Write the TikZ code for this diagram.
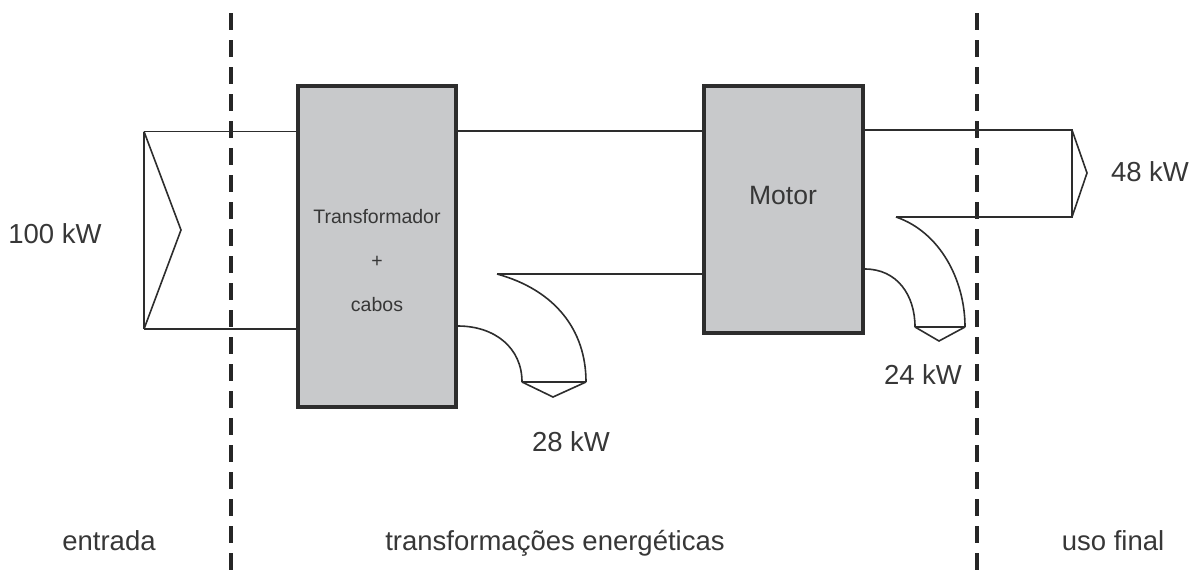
\documentclass[tikz,border=0pt]{standalone}
\usepackage{fontspec}
\setmainfont{Liberation Sans}
\definecolor{boxgray}{RGB}{200,201,203}
\definecolor{ink}{RGB}{45,45,45}
\definecolor{txt}{RGB}{55,55,55}
\tikzset{
  blockbox/.style={draw=ink, line width=3.5pt, fill=boxgray, inner sep=0pt},
  flow/.style={draw=ink, line width=1.6pt, line join=miter},
  divider/.style={draw=black!85, line width=4.5pt, dash pattern=on 17pt off 10pt},
  biglabel/.style={text=txt, font=\fontsize{27.5}{31}\selectfont, inner sep=0pt},
  smalllabel/.style={text=txt, font=\fontsize{19.5}{22}\selectfont, inner sep=0pt}
}
\begin{document}
\begin{tikzpicture}[x=1pt,y=-1pt]
\useasboundingbox (0,0) rectangle (1201,570);
% dividers
\coordinate (d1t) at (231,13); \coordinate (d1b) at (231,570);
\coordinate (d2t) at (977,13); \coordinate (d2b) at (977,570);
\draw[divider] (d1t) -- (d1b);
\draw[divider] (d2t) -- (d2b);
% boxes
\node[blockbox, minimum width=158pt, minimum height=321pt] (trafo) at (377,246.5) {};
\node[blockbox, minimum width=159pt, minimum height=247pt] (motor) at (783.5,209.5) {};
\node[smalllabel] (t1) at (377,217) {Transformador};
\node[smalllabel] (t2) at (377,262) {+};
\node[smalllabel] (t3) at (377,305) {cabos};
\node[biglabel, font=\fontsize{26.5}{30}\selectfont] (m1) at (783,196) {Motor};
% input arrow
\coordinate (inT) at (144,131.5);
\coordinate (inB) at (144,329);
\coordinate (inTip) at (181,230);
\draw[flow] (inT) -- (inB);
\draw[flow] (inT) -- (inTip) -- (inB);
\draw[flow] (inT) -- (trafo.west |- inT);
\draw[flow] (inB) -- (trafo.west |- inB);
% between trafo and motor
\coordinate (mid1) at (456,131);
\draw[flow] (trafo.east |- mid1) -- (motor.west |- mid1);
\coordinate (midL) at (497,274);
\draw[flow] (midL) -- (motor.west |- midL);
% loss 1 (28 kW)
\coordinate (l1in) at (456,326);
\coordinate (l1a) at (522,382);
\coordinate (l1b) at (586,382);
\coordinate (l1tip) at (553,397);
\draw[flow] (trafo.east |- l1in) .. controls (495,326) and (522,348) .. (l1a);
\draw[flow] (midL) .. controls (555,290) and (586,330) .. (l1b);
\draw[flow] (l1a) -- (l1b);
\draw[flow] (l1a) -- (l1tip) -- (l1b);
% output (48 kW)
\coordinate (oT) at (1072,130);
\coordinate (oB) at (1072,217);
\coordinate (oTip) at (1087,173);
\coordinate (oL) at (896,217);
\draw[flow] (motor.east |- oT) -- (oT) -- (oB) -- (oL);
\draw[flow] (oT) -- (oTip) -- (oB);
% loss 2 (24 kW)
\coordinate (l2in) at (863,269);
\coordinate (l2a) at (915,327);
\coordinate (l2b) at (965,327);
\coordinate (l2tip) at (939,341);
\draw[flow] (motor.east |- l2in) .. controls (897,269) and (915,295) .. (l2a);
\draw[flow] (oL) .. controls (940,232) and (965,280) .. (l2b);
\draw[flow] (l2a) -- (l2b);
\draw[flow] (l2a) -- (l2tip) -- (l2b);
% labels
\node[biglabel] (p100) at (55,234) {100 kW};
\node[biglabel] (p48) at (1150,172) {48 kW};
\node[biglabel] (p28) at (571,442) {28 kW};
\node[biglabel] (p24) at (923,375) {24 kW};
\node[biglabel, anchor=base] (e1) at (109,550) {entrada};
\node[biglabel, anchor=base] (e2) at (555,550) {transformações energéticas};
\node[biglabel, anchor=base] (e3) at (1113,550) {uso final};
\end{tikzpicture}
\end{document}
